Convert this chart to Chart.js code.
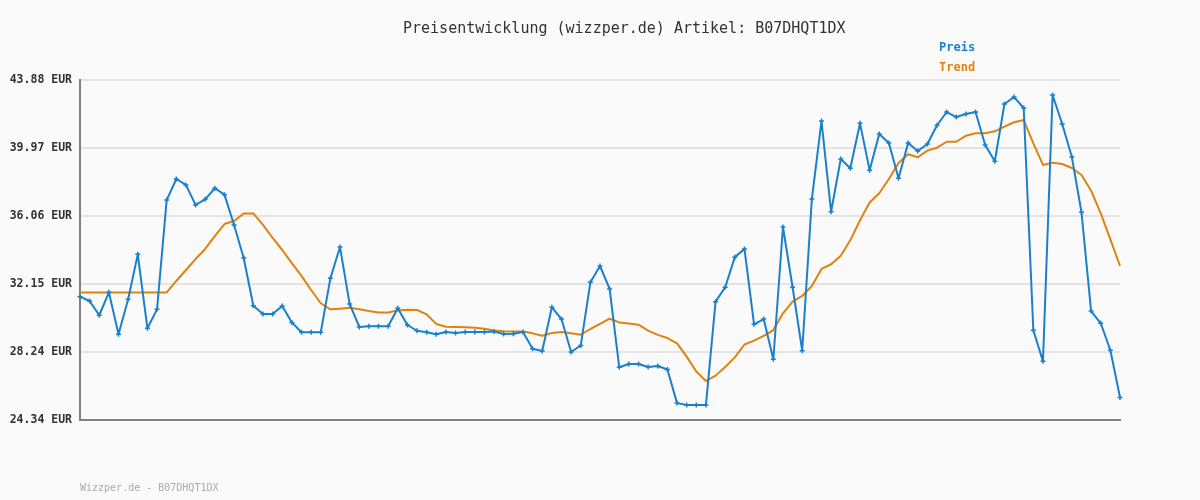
<!DOCTYPE html>
<html>
<head>
<meta charset="utf-8">
<script src="https://cdn.jsdelivr.net/npm/chart.js@4"></script>
<style>
    body { margin: 0; background: #fafafa; font-family: "DejaVu Sans Mono", monospace; }
    #wrap { position: relative; width: 1200px; height: 500px; }
    .txt { position: absolute; white-space: nowrap; }
    #title { left: 403px; top: 20px; font-size: 15px; line-height: 16px; color: #333; }
    #legend div { position: absolute; left: 939px; font-size: 12px; line-height: 12px; font-weight: bold; }
    #footer { left: 80px; top: 482px; font-size: 10px; line-height: 12px; color: #aaa; }
</style>
</head>
<body>
<div id="wrap">
    <canvas id="preischart"></canvas>
    <div id="title" class="txt">Preisentwicklung (wizzper.de) Artikel: B07DHQT1DX</div>
    <div id="legend"></div>
    <div id="footer" class="txt">Wizzper.de - B07DHQT1DX</div>
</div>
<script>
const yTicks = [24.34, 28.24, 32.15, 36.06, 39.97, 43.88]

const preis = [
    31.43, 31.18, 30.36, 31.68, 29.27, 31.28, 33.86, 29.61, 30.70, 36.98,
    38.19, 37.85, 36.70, 37.02, 37.66, 37.29, 35.55, 33.65, 30.91, 30.43,
    30.43, 30.89, 29.95, 29.38, 29.38, 29.38, 32.48, 34.28, 31.01, 29.69,
    29.73, 29.73, 29.73, 30.76, 29.80, 29.47, 29.38, 29.27, 29.40, 29.34,
    29.40, 29.40, 29.40, 29.43, 29.28, 29.30, 29.40, 28.43, 28.31, 30.82,
    30.14, 28.25, 28.62, 32.25, 33.19, 31.87, 27.37, 27.56, 27.56, 27.39,
    27.44, 27.24, 25.31, 25.20, 25.20, 25.20, 31.14, 31.97, 33.70, 34.17,
    29.84, 30.14, 27.83, 35.43, 31.97, 28.32, 37.04, 41.52, 36.31, 39.34,
    38.81, 41.39, 38.69, 40.78, 40.26, 38.23, 40.26, 39.80, 40.20, 41.28,
    42.04, 41.75, 41.93, 42.04, 40.14, 39.21, 42.50, 42.90, 42.27, 29.50,
    27.71, 43.02, 41.35, 39.45, 36.28, 30.60, 29.90, 28.35, 25.64
]

const trend = [
    31.67, 31.67, 31.67, 31.67, 31.67, 31.67, 31.67, 31.67, 31.67, 31.67,
    32.33, 32.96, 33.59, 34.17, 34.91, 35.60, 35.78, 36.21, 36.21, 35.55,
    34.80, 34.11, 33.36, 32.62, 31.81, 31.05, 30.70, 30.74, 30.79, 30.70,
    30.60, 30.52, 30.52, 30.64, 30.68, 30.66, 30.41, 29.86, 29.70, 29.68,
    29.67, 29.64, 29.59, 29.48, 29.44, 29.43, 29.42, 29.32, 29.18, 29.34,
    29.40, 29.32, 29.24, 29.57, 29.86, 30.16, 29.95, 29.89, 29.82, 29.48,
    29.23, 29.05, 28.74, 27.98, 27.13, 26.58, 26.89, 27.39, 27.94, 28.68,
    28.90, 29.17, 29.51, 30.47, 31.14, 31.47, 32.04, 33.02, 33.29, 33.78,
    34.68, 35.82, 36.84, 37.37, 38.19, 39.11, 39.61, 39.44, 39.82, 39.99,
    40.33, 40.33, 40.68, 40.82, 40.82, 40.93, 41.20, 41.45, 41.58, 40.24,
    39.00, 39.13, 39.05, 38.82, 38.42, 37.52, 36.22, 34.72, 33.19
]

const days = preis.map((v, i) => i + 1)

const seriesNames = ['Preis', 'Trend']
const seriesColors = ['#1a80cc', '#e0820f']

Chart.defaults.font.family = '"DejaVu Sans Mono", monospace'

let chart = new Chart(document.getElementById('preischart'), {
    type: 'line',
    data: {
        labels: days,
        datasets: [
            {
                label: seriesNames[0],
                data: preis,
                borderColor: seriesColors[0],
                backgroundColor: seriesColors[0],
                borderWidth: 2,
                borderJoinStyle: 'round',
                pointStyle: 'cross',
                pointRadius: 2.5,
                pointBorderWidth: 1.5,
                pointBorderColor: seriesColors[0],
                tension: 0
            },
            {
                label: seriesNames[1],
                data: trend,
                borderColor: seriesColors[1],
                borderWidth: 2,
                borderJoinStyle: 'round',
                pointRadius: 0,
                tension: 0
            }
        ]
    },
    options: {
        responsive: true,
        maintainAspectRatio: false,
        animation: false,
        layout: { padding: { top: 80, right: 80, bottom: 0, left: 0 } },
        plugins: {
            legend: { display: false },
            title: { display: false },
            tooltip: { enabled: false }
        },
        scales: {
            x: {
                ticks: { display: false },
                grid: { display: false },
                border: { display: true, color: '#808080', width: 2 },
                afterFit(scale) { scale.height = 80 }
            },
            y: {
                min: yTicks[0],
                max: yTicks[yTicks.length - 1],
                afterBuildTicks(scale) { scale.ticks = yTicks.map(v => ({ value: v })) },
                afterFit(scale) { scale.width = 80 },
                ticks: {
                    padding: 8,
                    color: '#333',
                    font: { size: 11.5, weight: 'bold' },
                    callback: v => v.toFixed(2) + ' EUR'
                },
                grid: { color: '#e4e4e4', lineWidth: 2, drawTicks: false },
                border: { display: true, color: '#808080', width: 2 }
            }
        }
    }
})

// legend, stacked at the top right like the original
let legend = document.getElementById('legend')
seriesNames.forEach((name, i) => {
    let d = document.createElement('div')
    d.textContent = name
    d.style.color = seriesColors[i]
    d.style.top = (41 + i * 20) + 'px'
    legend.appendChild(d)
})
</script>
</body>
</html>
